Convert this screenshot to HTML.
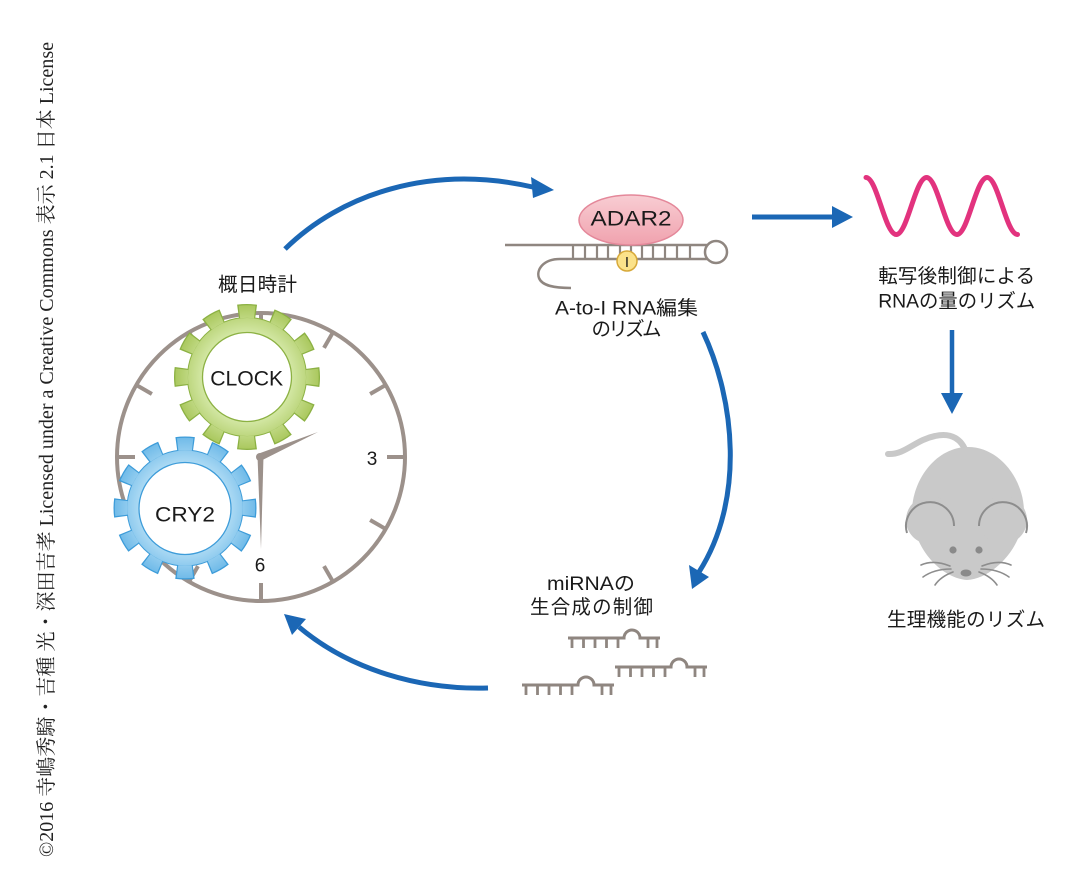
<!DOCTYPE html>
<html>
<head>
<meta charset="utf-8">
<style>
  html,body{margin:0;padding:0;background:#fff;}
  body{width:1080px;height:876px;overflow:hidden;}
  svg{display:block;}
  .lbl{font-family:"Liberation Sans","Noto Sans CJK JP",sans-serif;fill:#1a1a1a;}
</style>
</head>
<body>
<svg width="1080" height="876" viewBox="0 0 1080 876" xmlns="http://www.w3.org/2000/svg">
  <defs>
    <radialGradient id="gg" gradientUnits="userSpaceOnUse" cx="247" cy="377" r="73">
      <stop offset="0.6" stop-color="#d4e8a6"/>
      <stop offset="1" stop-color="#a9c75c"/>
    </radialGradient>
    <radialGradient id="bg" gradientUnits="userSpaceOnUse" cx="185" cy="508" r="72">
      <stop offset="0.6" stop-color="#b2ddf5"/>
      <stop offset="1" stop-color="#6db9e8"/>
    </radialGradient>
    <linearGradient id="pk" x1="0" y1="0" x2="0" y2="1">
      <stop offset="0" stop-color="#f8cdd3"/>
      <stop offset="1" stop-color="#f0a2ae"/>
    </linearGradient>
    <g id="mi" fill="none" stroke="#8f8680" stroke-width="3">
      <path d="M0,0 H56 A8,8 0 0 1 72,0 H92"/>
      <path d="M4,0 v10 M15.5,0 v10 M27,0 v10 M38.5,0 v10 M50,0 v10 M80,0 v10 M89,0 v10" stroke-width="2.8"/>
    </g>
  </defs>

  <!-- copyright vertical text -->
  <text transform="translate(53,857) rotate(-90)" textLength="815" lengthAdjust="spacingAndGlyphs"
        font-family="'Liberation Serif','Noto Serif CJK SC',serif" font-size="20" fill="#222">©2016 寺嶋秀騎・吉種 光・深田吉孝 Licensed under a Creative Commons 表示 2.1 日本 License</text>

  <!-- ===== Clock ===== -->
  <circle cx="261" cy="457" r="144" fill="#fff" stroke="#9c918b" stroke-width="4"/>
  <g stroke="#9c918b" stroke-width="4" stroke-linecap="butt">
    <line x1="333" y1="332.3" x2="324" y2="347.9"/>
    <line x1="385.7" y1="385" x2="370.1" y2="394"/>
    <line x1="405" y1="457" x2="387" y2="457"/>
    <line x1="385.7" y1="529" x2="370.1" y2="520"/>
    <line x1="333" y1="581.7" x2="324" y2="566.1"/>
    <line x1="261" y1="601" x2="261" y2="583"/>
    <line x1="189" y1="581.7" x2="198" y2="566.1"/>
    <line x1="136.3" y1="529" x2="151.9" y2="520"/>
    <line x1="117" y1="457" x2="135" y2="457"/>
    <line x1="136.3" y1="385" x2="151.9" y2="394"/>
    <line x1="189" y1="332.3" x2="198" y2="347.9"/>
    <line x1="261" y1="313" x2="261" y2="331"/>
  </g>
  <!-- hands -->
  <polygon points="257.5,454 318,432 261.5,460.5" fill="#9c918b"/>
  <polygon points="257.5,456 261,549 263.5,456" fill="#9c918b"/>
  <circle cx="260" cy="457" r="4" fill="#9c918b"/>
  <text class="lbl" x="372" y="465" font-size="19" text-anchor="middle">3</text>
  <text class="lbl" x="260" y="571.5" font-size="19" text-anchor="middle">6</text>

  <!-- CLOCK gear (green) -->
  <g>
    <circle cx="247" cy="377" r="65.5" fill="none" stroke="#8cb143" stroke-width="15"
            stroke-dasharray="18 16.29" stroke-dashoffset="9"/>
    <circle cx="247" cy="377" r="60" fill="#8cb143"/>
    <circle cx="247" cy="377" r="65.4" fill="none" stroke="url(#gg)" stroke-width="12.6"
            stroke-dasharray="15.4 18.84" stroke-dashoffset="7.7"/>
    <circle cx="247" cy="377" r="59" fill="url(#gg)"/>
    <circle cx="247" cy="377" r="44.5" fill="#fff" stroke="#8cb143" stroke-width="1.3"/>
  </g>
  <text class="lbl" x="246.7" y="385.5" font-size="21.5" text-anchor="middle" textLength="73" lengthAdjust="spacingAndGlyphs">CLOCK</text>

  <!-- CRY2 gear (blue) -->
  <g>
    <circle cx="185" cy="508" r="64" fill="none" stroke="#3d9cd9" stroke-width="15"
            stroke-dasharray="17.5 16.01" stroke-dashoffset="8.75"/>
    <circle cx="185" cy="508" r="58.5" fill="#3d9cd9"/>
    <circle cx="185" cy="508" r="63.9" fill="none" stroke="url(#bg)" stroke-width="12.6"
            stroke-dasharray="15 18.46" stroke-dashoffset="7.5"/>
    <circle cx="185" cy="508" r="57.5" fill="url(#bg)"/>
    <circle cx="185" cy="508.5" r="46" fill="#fff" stroke="#3d9cd9" stroke-width="1.3"/>
  </g>
  <text class="lbl" x="185" y="521.5" font-size="21.5" text-anchor="middle" textLength="60" lengthAdjust="spacingAndGlyphs">CRY2</text>

  <text class="lbl" x="257.5" y="291" font-size="19.5" text-anchor="middle" textLength="79" lengthAdjust="spacing">概日時計</text>

  <!-- ===== Arrows ===== -->
  <g fill="none" stroke="#1b67b5" stroke-width="5" stroke-linecap="butt">
    <path d="M285,249 C340,195 430,163 535,187.5"/>
    <path d="M703,332 C735,400 745,500 699,572"/>
    <path d="M488,688 C420,690 350,670 299,627"/>
    <path d="M752,217 H835"/>
    <path d="M952,330 V396" stroke-width="4.5"/>
  </g>
  <g fill="#1b67b5">
    <polygon points="531,177 554,190 533,198"/>
    <polygon points="689,565 709,577 692,589"/>
    <polygon points="284,614 306,619 292,635"/>
    <polygon points="832,206 853,217 832,228"/>
    <polygon points="941,393 963,393 952,414"/>
  </g>

  <!-- ===== ADAR2 / RNA hairpin ===== -->
  <g fill="none" stroke="#8f8680" stroke-width="2.5">
    <path d="M505,245 H707.5"/>
    <path d="M707.5,259 H560 C543,259 536,270 539,278 C542,286 555,288 571,288"/>
    <circle cx="716" cy="252" r="11"/>
    <path d="M573,245 V259 M585,245 V259 M597,245 V259 M608,245 V259 M620,245 V259 M631,245 V259 M642,245 V259 M653,245 V259 M665,245 V259 M677,245 V259 M690,245 V259" stroke-width="2.2"/>
  </g>
  <ellipse cx="631" cy="220" rx="52" ry="25" fill="url(#pk)" stroke="#e4889a" stroke-width="1.5"/>
  <text class="lbl" x="631" y="225.5" font-size="21" text-anchor="middle" textLength="81" lengthAdjust="spacingAndGlyphs">ADAR2</text>
  <circle cx="627" cy="261" r="10" fill="#fbe28a" stroke="#d7a93a" stroke-width="1.5"/>
  <text class="lbl" x="627" y="267" font-size="15" text-anchor="middle">I</text>

  <text class="lbl" x="626.5" y="314.5" font-size="19.5" text-anchor="middle" textLength="143" lengthAdjust="spacingAndGlyphs">A-to-I RNA編集</text>
  <text class="lbl" x="626.5" y="335.5" font-size="19.5" text-anchor="middle" textLength="70" lengthAdjust="spacing">のリズム</text>

  <!-- ===== wave ===== -->
  <path d="M866,177.5
           C877,177.5 885,234.5 896.3,234.5
           C907.3,234.5 915.3,177.5 926.6,177.5
           C937.6,177.5 945.6,234.5 956.9,234.5
           C967.9,234.5 975.9,177.5 987.2,177.5
           C998.2,177.5 1006.2,234.5 1017.5,234.5"
        fill="none" stroke="#e2337e" stroke-width="5" stroke-linecap="round"/>

  <text class="lbl" x="956.7" y="282.5" font-size="19.5" text-anchor="middle" textLength="157" lengthAdjust="spacing">転写後制御による</text>
  <text class="lbl" x="956.7" y="307.5" font-size="19.5" text-anchor="middle" textLength="157" lengthAdjust="spacingAndGlyphs">RNAの量のリズム</text>

  <!-- ===== mouse ===== -->
  <path d="M888,454 C905,455 915,440 935,436 C952,432 962,440 966,452" fill="none" stroke="#c8c8c8" stroke-width="6" stroke-linecap="round"/>
  <path d="M968,447 C1000,447 1024,480 1024,512 C1024,545 995,578 967,580 C939,578 912,545 912,512 C912,480 936,447 968,447 Z" fill="#c9c9c9"/>
  <circle cx="930" cy="520" r="24" fill="#c9c9c9"/>
  <circle cx="1003" cy="520" r="24" fill="#c9c9c9"/>
  <g fill="none" stroke="#8d8d8d" stroke-width="2">
    <path d="M907,533 A24,24 0 1 1 954,526"/>
    <path d="M1026,533 A24,24 0 1 0 979,526"/>
  </g>
  <circle cx="953" cy="550" r="3.6" fill="#8a8a8a"/>
  <circle cx="979" cy="550" r="3.6" fill="#8a8a8a"/>
  <ellipse cx="966" cy="573" rx="5.5" ry="3.5" fill="#8a8a8a"/>
  <g fill="none" stroke="#8d8d8d" stroke-width="1.6" stroke-linecap="round">
    <path d="M950,566 C940,562 930,561 921,565"/>
    <path d="M951,569 C940,569 930,572 923,577"/>
    <path d="M953,572 C945,575 939,579 935,585"/>
    <path d="M982,566 C992,562 1002,561 1011,565"/>
    <path d="M981,569 C992,569 1002,572 1009,577"/>
    <path d="M979,572 C987,575 993,579 997,585"/>
  </g>
  <text class="lbl" x="966" y="626" font-size="19.5" text-anchor="middle" textLength="158" lengthAdjust="spacing">生理機能のリズム</text>

  <!-- ===== miRNA ===== -->
  <text class="lbl" x="591" y="590" font-size="19.5" text-anchor="middle" textLength="88" lengthAdjust="spacingAndGlyphs">miRNAの</text>
  <text class="lbl" x="591.5" y="613.5" font-size="19.5" text-anchor="middle" textLength="123" lengthAdjust="spacing">生合成の制御</text>
  <use href="#mi" transform="translate(568,638)"/>
  <use href="#mi" transform="translate(615,667)"/>
  <use href="#mi" transform="translate(522,685)"/>
</svg>
</body>
</html>
